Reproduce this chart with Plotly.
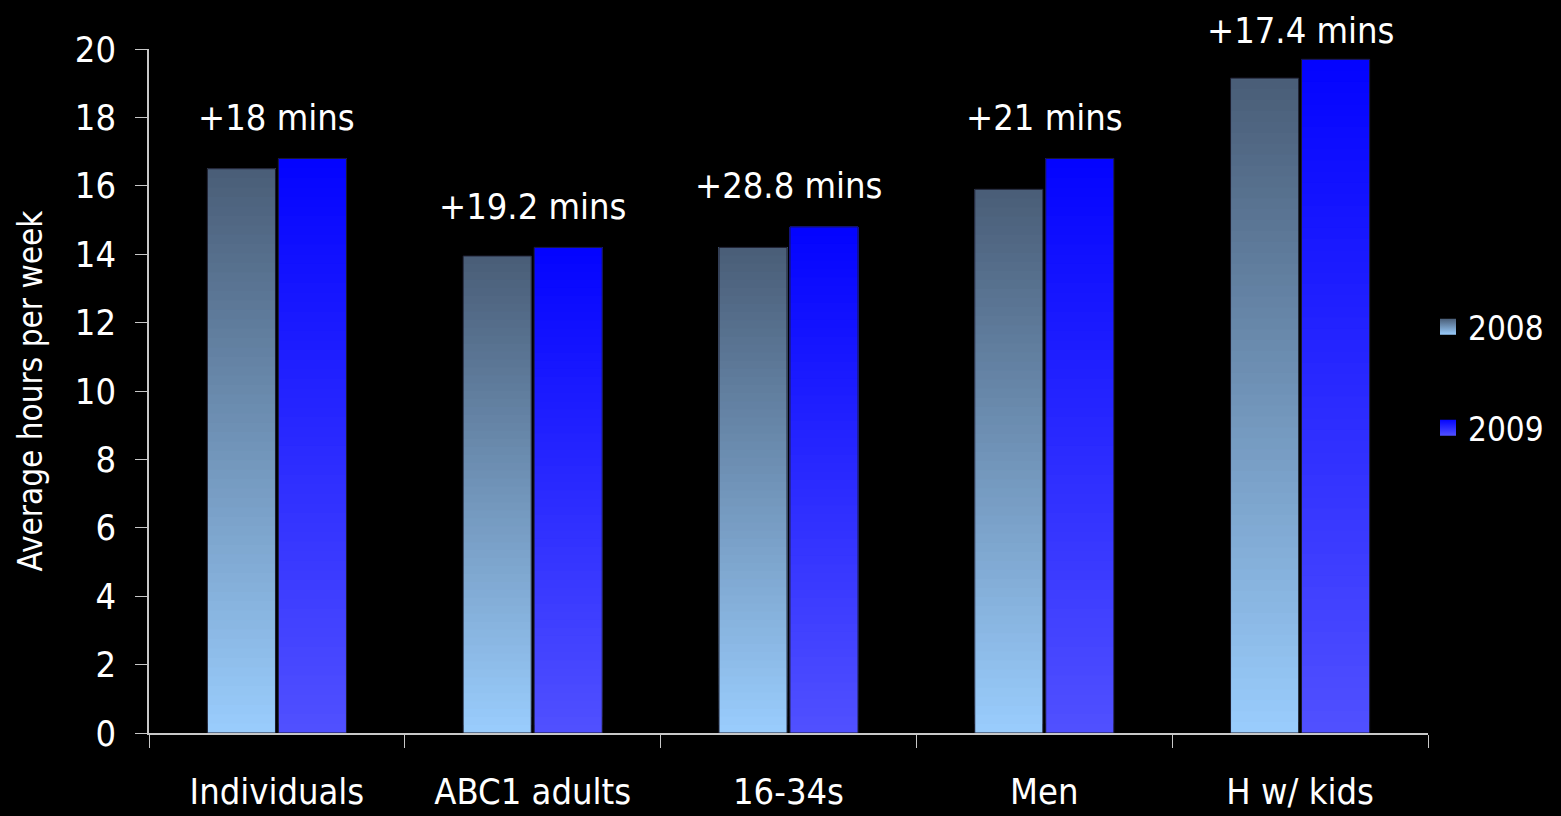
import plotly.graph_objects as go

categories = ["Individuals", "ABC1 adults", "16-34s", "Men", "H w/ kids"]
hours_2008 = [16.5, 13.95, 14.2, 15.9, 19.15]
hours_2009 = [16.8, 14.2, 14.8, 16.8, 19.7]
change_labels = ["+18 mins", "+19.2 mins", "+28.8 mins", "+21 mins", "+17.4 mins"]
y_ticks = [0, 2, 4, 6, 8, 10, 12, 14, 16, 18, 20]

FONT = "DejaVu Sans Condensed, DejaVu Sans, sans-serif"
N_SEG = 60
Y_MAX = 20
PX_PER_UNIT = 684 / Y_MAX

series = [
    ("2008", hours_2008, (153, 204, 252), (74, 94, 120)),   # bottom colour, top colour
    ("2009", hours_2009, (80, 80, 255), (4, 4, 255)),
]

def rgb(c):
    return "rgb(%d,%d,%d)" % tuple(c)

def lerp(c0, c1, t):
    return rgb([round(a + (b - a) * t) for a, b in zip(c0, c1)])

fig = go.Figure()
for name, vals, c_bot, c_top in series:
    # layered gradient: each layer runs from its base to the bar top
    for k in range(N_SEG):
        t = k / (N_SEG - 1)
        fig.add_trace(go.Bar(
            x=categories,
            y=[v * (N_SEG - k) / N_SEG for v in vals],
            base=[v * k / N_SEG for v in vals],
            offsetgroup=name,
            marker=dict(color=lerp(c_bot, c_top, t), line=dict(width=0)),
            showlegend=False,
            hoverinfo="skip",
        ))
    # outline
    fig.add_trace(go.Bar(
        x=categories, y=vals, offsetgroup=name,
        marker=dict(color="rgba(0,0,0,0)", line=dict(color="#1a1a2a", width=1)),
        showlegend=False, hovertemplate=name + ": %{y}<extra></extra>",
    ))
    # legend entry
    fig.add_trace(go.Scatter(
        x=[None], y=[None], mode="markers", name=name, legendgroup=name,
        marker=dict(symbol="square", size=16, color=rgb(c_top),
                    gradient=dict(type="vertical", color=rgb(c_bot)),
                    line=dict(width=0)),
        showlegend=True,
    ))

for cat, a, b, lab in zip(categories, hours_2008, hours_2009, change_labels):
    label_y = min(max(a, b) + 1.2, 20.55)
    anchor_y = min(label_y, Y_MAX)
    fig.add_annotation(
        x=cat, y=anchor_y, yshift=(label_y - anchor_y) * PX_PER_UNIT,
        text=lab, showarrow=False,
        xref="x", yref="y", yanchor="middle",
        font=dict(family=FONT, size=36, color="white"),
    )

fig.update_layout(
    width=1561, height=816,
    margin=dict(l=149, r=133, t=49, b=83),
    paper_bgcolor="black", plot_bgcolor="black",
    barmode="group", bargap=0.445, bargroupgap=0.04,
    font=dict(family=FONT, color="white"),
    legend=dict(
        x=1.0, y=0.52, xanchor="left", yanchor="middle",
        font=dict(family=FONT, size=33, color="white"),
        traceorder="grouped", tracegroupgap=55,
        bgcolor="rgba(0,0,0,0)", itemwidth=30,
    ),
    xaxis=dict(
        showgrid=False, showline=True, linecolor="#c8c8c8", linewidth=1.5,
        ticks="outside", tickson="boundaries", ticklen=13, tickcolor="#c8c8c8",
        tickfont=dict(family=FONT, size=36, color="white"),
        ticklabelstandoff=26, automargin=False,
    ),
    yaxis=dict(
        range=[0, Y_MAX], tickvals=y_ticks, showgrid=False, zeroline=False,
        showline=True, linecolor="#c8c8c8", linewidth=1.5,
        ticks="outside", ticklen=12, tickcolor="#c8c8c8",
        tickfont=dict(family=FONT, size=36, color="white"),
        ticklabelstandoff=12, automargin=False,
        title=dict(text="Average hours per week", font=dict(family=FONT, size=33, color="white"), standoff=22),
    ),
)

fig.write_html("out.html")
